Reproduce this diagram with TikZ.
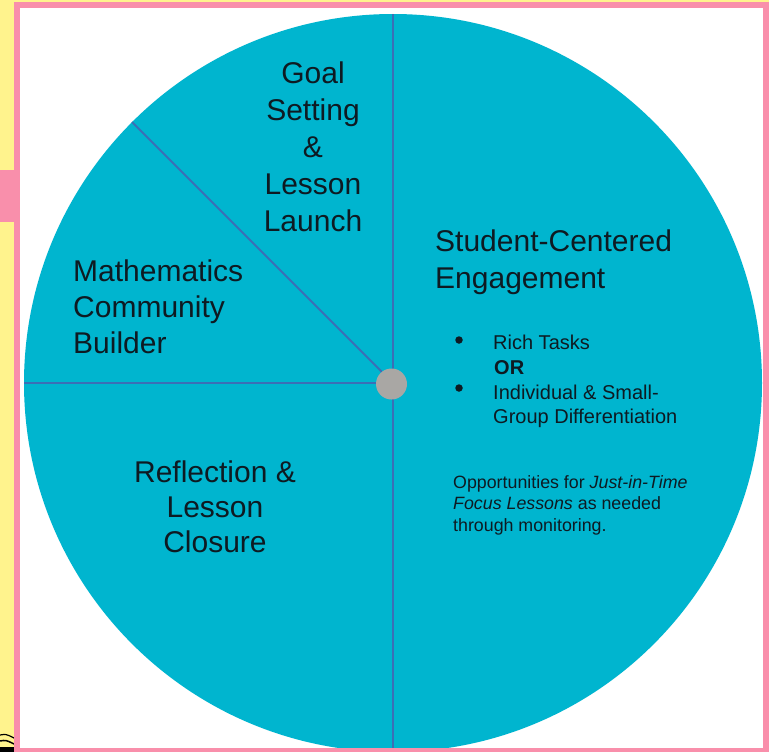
\documentclass[tikz,border=0pt]{standalone}
\usepackage{fontspec}
\setmainfont{Liberation Sans}
\definecolor{wheelblue}{HTML}{00B5CF}
\definecolor{spoke}{HTML}{3B6FB6}
\definecolor{hubgray}{HTML}{A9A7A4}
\definecolor{framepink}{HTML}{F98FAB}
\definecolor{bgyellow}{HTML}{FFF38D}
\definecolor{ink}{HTML}{0E1A22}
\begin{document}
\begin{tikzpicture}[x=1pt,y=-1pt,
  bigtext/.style={text=ink, inner sep=0pt},
  smalltext/.style={font=\fontsize{20}{24.5}\selectfont, text=ink, inner sep=0pt, anchor=base west, align=left},
  notetext/.style={font=\fontsize{17.8}{21.5}\selectfont, text=ink, inner sep=0pt, anchor=base west, align=left},
  spokeline/.style={draw=spoke, line width=2pt},
  bulletdot/.style={circle, fill=ink, inner sep=0pt, minimum size=7.5pt}]
\useasboundingbox (0,0) rectangle (769,752);
\fill[bgyellow] (0,0) rectangle (769,752);
\fill[white] (17,5) rectangle (766,752);
\fill[framepink] (0,170) rectangle (14,222);
% scribble remnant bottom-left
\draw[black, line width=1.2pt] (0,735) .. controls (6,734) .. (14,738);
\draw[black, line width=1.5pt] (0,741) .. controls (6,740) .. (14,744);
\fill[black] (0,747) rectangle (14,752);
% wheel
\node[circle, fill=wheelblue, inner sep=0pt, outer sep=0pt, minimum size=738pt] (wheel) at (393,383) {};
\draw[spokeline] (wheel.center) -- (wheel.north);
\draw[spokeline] (wheel.center) -- (wheel.south);
\draw[spokeline] (wheel.center) -- (wheel.west);
\draw[spokeline] (wheel.center) -- (wheel.135);
\node[circle, fill=hubgray, minimum size=31pt, inner sep=0pt] (hub) at (391.5,384) {};
% labels (base anchor = baseline of last line)
\node[bigtext, font=\fontsize{30}{37}\selectfont, align=center, anchor=base] (goal) at (313,231) {Goal\\Setting\\\&\\Lesson\\Launch};
\node[bigtext, font=\fontsize{30}{37}\selectfont, align=left, anchor=base west] (engage) at (435,288) {Student-Centered\\Engagement};
\node[bigtext, font=\fontsize{30}{36}\selectfont, align=left, anchor=base west] (community) at (73,353) {Mathematics\\Community\\Builder};
\node[bigtext, font=\fontsize{30}{35}\selectfont, align=center, anchor=base] (reflect) at (215,552) {Reflection \&\\Lesson\\Closure};
% list
\node[bulletdot] (b1) at (459,340) {};
\node[bulletdot] (b2) at (459,388) {};
\node[smalltext] (rich) at (493,349) {Rich Tasks};
\node[smalltext, font=\fontsize{20}{24.5}\selectfont\bfseries] (or) at (494,374) {OR};
\node[smalltext] (indiv) at (493,423.5) {Individual \& Small-\\Group Differentiation};
\node[notetext] (note) at (453,531) {Opportunities for \textit{Just-in-Time}\\\textit{Focus Lessons} as needed\\through monitoring.};
% frame
\draw[framepink, line width=6pt] (17,5) rectangle (766,751);
\end{tikzpicture}
\end{document}
